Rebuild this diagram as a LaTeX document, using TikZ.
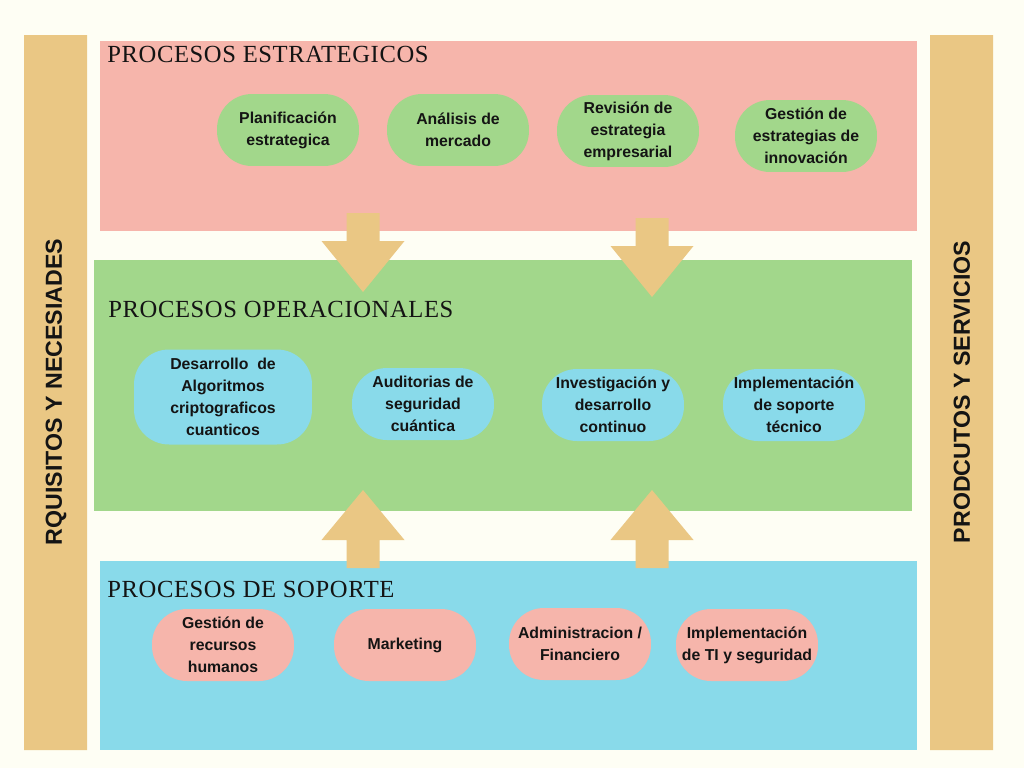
\documentclass[tikz,border=0pt]{standalone}
\usepackage{fontspec}
\setmainfont{Liberation Sans}
\newfontfamily\slabfont[LetterSpace=2.5]{Liberation Serif}
\usetikzlibrary{positioning}
\definecolor{cream}{HTML}{FEFEF4}
\definecolor{gold}{HTML}{EAC784}
\definecolor{rose}{HTML}{F6B5AB}
\definecolor{leaf}{HTML}{A2D78B}
\definecolor{sky}{HTML}{89DAEA}
\definecolor{ink}{HTML}{141414}

\begin{document}
\begin{tikzpicture}[x=0.02cm,y=-0.02cm,
    pill/.style={rounded corners=0.7cm,inner sep=0pt,align=center,
      minimum width=2.84cm,minimum height=1.44cm,text=ink,
      font=\bfseries\fontsize{9}{12.5}\selectfont},
    title/.style={anchor=base west,inner sep=0pt,text=ink,
      font=\slabfont\fontsize{14}{16}\selectfont},
    side/.style={rotate=90,inner sep=0pt,text=ink,
      font=\bfseries\fontsize{13.2}{15}\selectfont}]
    \fill[cream](0,0)rectangle(1024,768);
    \useasboundingbox(0,0)rectangle(1024,768);
    % side bars
    \fill[gold](24,35)rectangle(87,750)(930,35)rectangle(993,750);
    \node[side](req)at(56,392){RQUISITOS Y NECESIADES};
    \node[side](prod)at(962,392){PRODCUTOS Y SERVICIOS};
    % bands
    \fill[rose](100,41)rectangle(917,231);
    \fill[leaf](94,260)rectangle(912,511);
    \fill[sky](100,561)rectangle(917,750);
    \node[title](estr)at(107,62){PROCESOS ESTRATEGICOS};
    \node[title](oper)at(108,317){PROCESOS OPERACIONALES};
    \node[title](sop)at(107,597){PROCESOS DE SOPORTE};
    % arrows
    \foreach \cx/\ty in {363/213,652/218}
      \fill[gold](\cx-16.5,\ty)--++(33,0)--++(0,28)--++(25,0)--(\cx,\ty+79)
        --(\cx-41.5,\ty+28)--++(25,0)--cycle;
    \foreach \cx in {363,652}
      \fill[gold](\cx,490)--(\cx+41.5,540)--(\cx+16.5,540)--(\cx+16.5,568)
        --(\cx-16.5,568)--(\cx-16.5,540)--(\cx-41.5,540)--cycle;
    % strategic
    \node[pill,fill=leaf](plan)at(288,130){Planificación\\estrategica};
    \node[pill,fill=leaf](anal)at(458,130){Análisis de\\mercado};
    \node[pill,fill=leaf](rev)at(628,131){Revisión de\\estrategia\\empresarial};
    \node[pill,fill=leaf](innov)at(806,136){Gestión de\\estrategias de\\innovación};
    % operational
    \node[pill,fill=sky,minimum width=3.56cm,minimum height=1.9cm](algo)at(223,397)
      {Desarrollo\ \ de\\Algoritmos\\criptograficos\\cuanticos};
    \node[pill,fill=sky](audit)at(423,404){Auditorias de\\seguridad\\cuántica};
    \node[pill,fill=sky](invest)at(613,405){Investigación y\\desarrollo\\continuo};
    \node[pill,fill=sky](tecn)at(794,405){Implementación\\de soporte\\técnico};
    % support
    \node[pill,fill=rose](rrhh)at(223,645){Gestión de\\recursos\\humanos};
    \node[pill,fill=rose](mark)at(405,645){Marketing};
    \node[pill,fill=rose](admin)at(580,644){Administracion /\\Financiero};
    \node[pill,fill=rose](ti)at(747,645){Implementación\\de TI y seguridad};
  \end{tikzpicture}
\end{document}
